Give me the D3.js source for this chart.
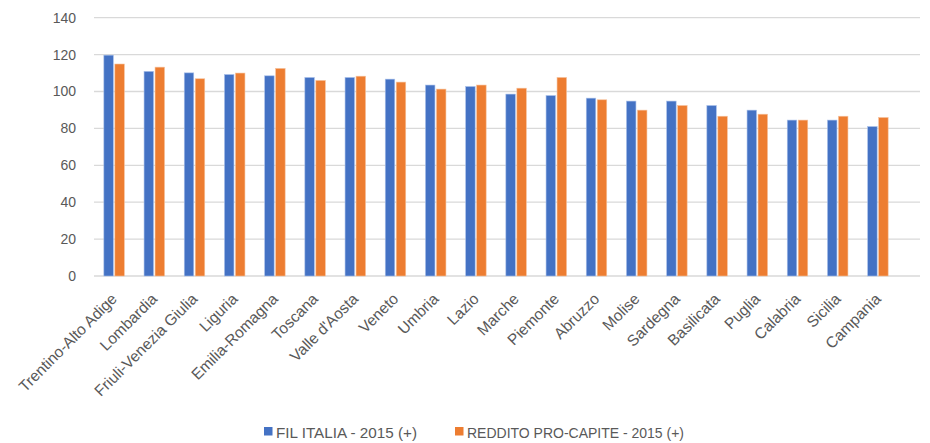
<!DOCTYPE html>
<html><head><meta charset="utf-8">
<script src="https://cdn.jsdelivr.net/npm/d3@7"></script>
<style>body{margin:0;background:#fff}svg{display:block}</style>
</head><body>
<svg id="c" width="930" height="443"></svg>
<script>
const categories = ["Trentino-Alto Adige","Lombardia","Friuli-Venezia Giulia","Liguria","Emilia-Romagna","Toscana","Valle d'Aosta","Veneto","Umbria","Lazio","Marche","Piemonte","Abruzzo","Molise","Sardegna","Basilicata","Puglia","Calabria","Sicilia","Campania"];
const filItalia = [119.7,110.9,110.1,109.2,108.5,107.6,107.6,106.7,103.5,102.7,98.6,97.8,96.4,94.8,94.8,92.4,89.9,84.5,84.5,81.0];
const reddito = [114.9,113.2,106.9,110.0,112.5,106.0,108.3,105.1,101.3,103.5,101.8,107.6,95.5,89.9,92.4,86.6,87.7,84.5,86.6,85.9];
const seriesNames = ["FIL ITALIA - 2015 (+)","REDDITO PRO-CAPITE - 2015 (+)"];
const yTicks = [0,20,40,60,80,100,120,140];
const colors = ["#4472C4","#ED7D31"];

const svg = d3.select("#c");
const font = "'Liberation Sans', Arial, sans-serif";
const x = d3.scaleBand().domain(categories).range([94, 898]).paddingInner(0).paddingOuter(0);
const y = d3.scaleLinear().domain([0,140]).range([276, 17.7]);

// gridlines
svg.append("g").selectAll("line").data(yTicks).join("line")
  .attr("x1", 94).attr("x2", 920)
  .attr("y1", d => y(d)).attr("y2", d => y(d))
  .attr("stroke", "#d9d9d9").attr("stroke-width", 1.3);

// y labels
svg.append("g").selectAll("text").data(yTicks).join("text")
  .attr("x", 76).attr("y", d => y(d)).attr("dy", "0.35em")
  .attr("text-anchor", "end").attr("font-family", font).attr("font-size", 14)
  .attr("fill", "#595959").text(d => d);

// bars
const bw = 9.5, gap = 1.5;
const sub = d3.scaleBand().domain([0,1]).range([x.bandwidth()/2 - bw - gap/2, x.bandwidth()/2 + bw + gap/2]).paddingInner(gap/(bw+gap));
const data = [filItalia, reddito];
data.forEach((vals, si) => {
  svg.append("g").selectAll("rect").data(vals).join("rect")
    .attr("x", (d,i) => x(categories[i]) + sub(si))
    .attr("y", d => y(d))
    .attr("width", sub.bandwidth())
    .attr("height", d => y(0) - y(d))
    .attr("fill", colors[si])
    .attr("stroke", si === 0 ? "#a9c0ea" : "#f6c19c").attr("stroke-width", 0.6);
});

// x labels
svg.append("g").selectAll("text").data(categories).join("text")
  .attr("transform", d => `translate(${x(d) + x.bandwidth()/2},${296}) rotate(-45)`)
  .attr("text-anchor", "end").attr("dy", "0.35em")
  .attr("font-family", font).attr("font-size", 15.5).attr("fill", "#595959")
  .text(d => d);

// legend
const legX = [264, 455];
const legW = [141, 217];
seriesNames.forEach((n, i) => {
  svg.append("rect").attr("x", legX[i]).attr("y", 427).attr("width", 8.5).attr("height", 8.5).attr("fill", colors[i]);
  svg.append("text").attr("x", legX[i] + 12).attr("y", 438).attr("font-family", font)
    .attr("font-size", 14.5).attr("fill", "#595959")
    .attr("textLength", legW[i]).attr("lengthAdjust", "spacingAndGlyphs").text(n);
});
</script>
</body></html>
